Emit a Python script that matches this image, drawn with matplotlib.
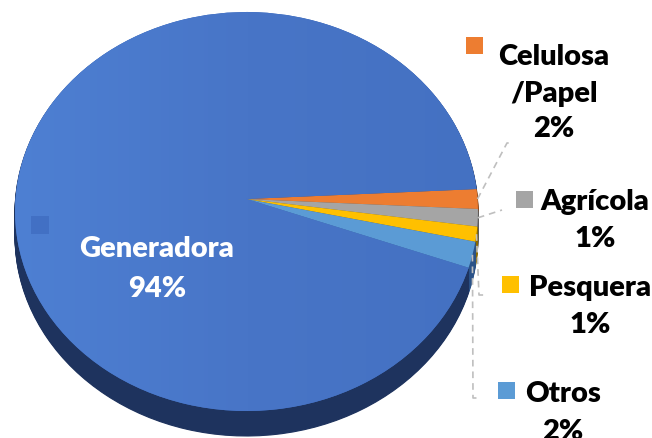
import numpy as np
import matplotlib
matplotlib.use('Agg')
import matplotlib.pyplot as plt
import matplotlib.transforms as mtransforms
from matplotlib.patches import Rectangle
from matplotlib.colors import LinearSegmentedColormap

# ---- data ----
categories = ['Generadora', 'Celulosa\n/Papel', 'Agrícola', 'Pesquera', 'Otros']
shares = [93.7, 1.6, 1.4, 1.2, 2.1]
top_colors = ['#4472C4', '#ED7D31', '#A5A5A5', '#FFC000', '#5B9BD5']
side_colors = ['#1E335E', '#8A4A1E', '#5C5C5C', '#8C6A00', '#2B5288']
label_colors = ['white', 'black', 'black', 'black', 'black']


class Persp(mtransforms.Transform):
    """Simple perspective projection of the unit pie disc onto pixel space."""
    input_dims = 2
    output_dims = 2
    is_separable = False

    def __init__(self, cx, cy, a, b, k, dy=0.0):
        super().__init__()
        self.cx, self.cy, self.a, self.b, self.k, self.dy = cx, cy, a, b, k, dy

    def transform_non_affine(self, pts):
        pts = np.asarray(pts, float)
        u, v = pts[:, 0], pts[:, 1]
        w = 1.0 + self.k * v
        x = self.cx + self.a * u / w
        y = self.cy - self.b * v / w + self.dy
        return np.column_stack([x, y])


W, H = 652, 439
fig = plt.figure(figsize=(W / 100, H / 100), dpi=100)
ax = fig.add_axes([0, 0, 1, 1])

CX, CY, A, B, K = 246.5, 200.0, 231.0, 198.7, 0.0627
DEPTH = 25
START = 340.2

# side wall (stacked layers)
for d in np.arange(DEPTH, 0, -1):
    wedges, _ = ax.pie(shares, colors=side_colors, startangle=START, counterclock=False,
                       wedgeprops=dict(linewidth=0.8))
    for w_, c in zip(wedges, side_colors):
        w_.set_edgecolor(c)
        w_.set_transform(Persp(CX, CY, A, B, K, dy=float(d)) + ax.transData)
        w_.set_zorder(1)

# top surface
top, _ = ax.pie(shares, colors=top_colors, startangle=START, counterclock=False,
                wedgeprops=dict(linewidth=0))
persp = Persp(CX, CY, A, B, K)
for w_ in top:
    w_.set_transform(persp + ax.transData)
    w_.set_zorder(2)

# subtle gradient on the main slice
cmap = LinearSegmentedColormap.from_list('g', ['#4E80D3', '#4875C7', '#4471C2'])
grad = np.linspace(0, 1, 256).reshape(1, -1)
im = ax.imshow(grad, cmap=cmap, extent=(10, 485, H, 0), aspect='auto', zorder=2.5,
               interpolation='bilinear')
im.set_clip_path(top[0])

ax.set_aspect('auto')
ax.set_xlim(0, W)
ax.set_ylim(H, 0)
ax.axis('off')

# ---- labels ----
font = dict(family=['Lato', 'DejaVu Sans'], weight='heavy', fontsize=21)
label_x = [157, 554, 595, 590, 563]
label_base = [[257, 297], [65, 102, 137], [210, 247], [296, 333], [402, 440]]
key_boxes = [(31, 217, 18), (466, 38, 17), (516, 192, 17), (502, 277, 17), (498, 383, 17)]
key_colors = ['#4270C4', '#ED7D31', '#A5A5A5', '#FFC000', '#5B9BD5']

for i, (cat, val) in enumerate(zip(categories, shares)):
    lines = cat.split('\n') + [f"{val:.0f}%"]
    for txt, yb in zip(lines, label_base[i]):
        ax.text(label_x[i], yb, txt, ha='center', va='baseline', color=label_colors[i],
                zorder=5, **font)
    kx, ky, ks = key_boxes[i]
    ax.add_patch(Rectangle((kx, ky), ks, ks, facecolor=key_colors[i], edgecolor='none', zorder=4))

# ---- leader lines ----
cum = np.cumsum([0] + shares)
mids = START - (cum[:-1] + cum[1:]) / 2 / 100 * 360
elbows = {1: [(507, 144), (513, 144)],
          2: [(502, 211)],
          3: [(479, 296), (485, 296)],
          4: [(473, 399), (478, 399)]}
for i, pts in elbows.items():
    th = np.deg2rad(mids[i])
    sx, sy = persp.transform_non_affine(np.array([[np.cos(th), np.sin(th)]]))[0]
    xs = [sx] + [p[0] for p in pts]
    ys = [sy] + [p[1] for p in pts]
    ax.plot(xs, ys, color='#BFBFBF', lw=1.2, linestyle=(0, (4, 3)), zorder=3)

fig.savefig('out.png', dpi=100)
